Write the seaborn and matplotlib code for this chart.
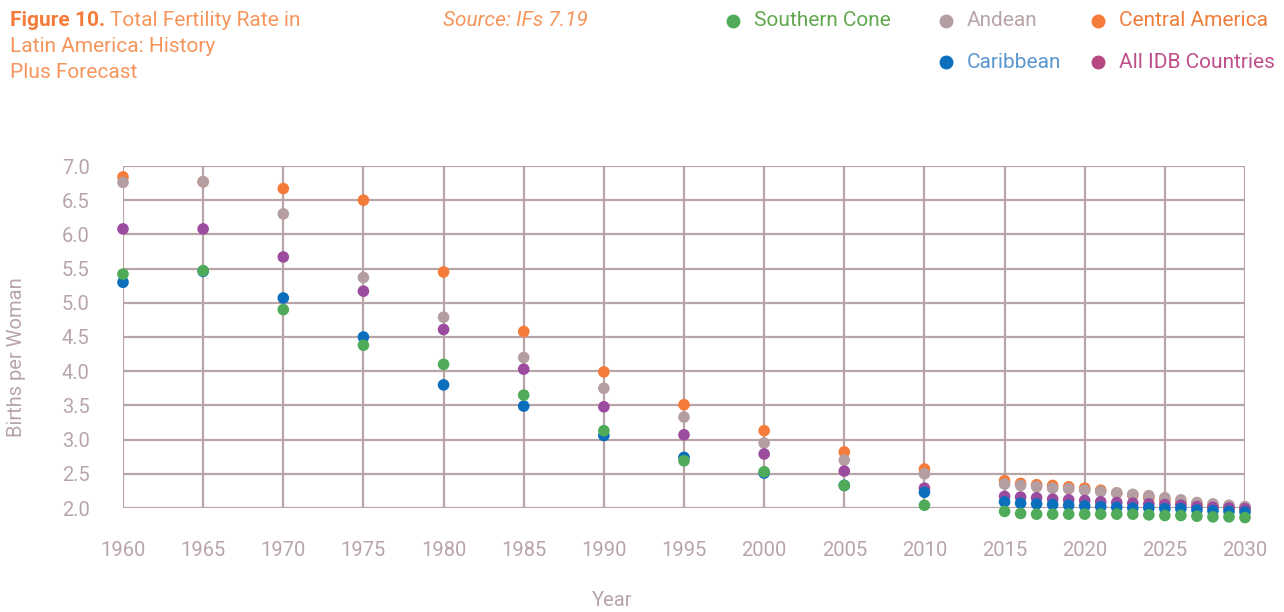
import matplotlib
matplotlib.use("Agg")
import matplotlib.pyplot as plt
import seaborn as sns
import pandas as pd
import numpy as np

years = [1960, 1965, 1970, 1975, 1980, 1985, 1990, 1995, 2000, 2005, 2010,
         2015, 2016, 2017, 2018, 2019, 2020, 2021, 2022, 2023, 2024, 2025,
         2026, 2027, 2028, 2029, 2030]

central_america = [6.84, 6.77, 6.67, 6.50, 5.45, 4.58, 3.99, 3.51, 3.13, 2.82, 2.57,
                   2.40, 2.36, 2.34, 2.33, 2.31, 2.29, 2.26, 2.22, 2.19, 2.15, 2.11,
                   2.08, 2.06, 2.03, 2.01, 1.99]
andean = [6.76, 6.77, 6.30, 5.37, 4.79, 4.20, 3.75, 3.33, 2.95, 2.70, 2.50,
          2.35, 2.33, 2.31, 2.29, 2.28, 2.26, 2.24, 2.22, 2.20, 2.18, 2.15,
          2.12, 2.08, 2.06, 2.04, 2.02]
all_idb = [6.08, 6.08, 5.67, 5.17, 4.61, 4.03, 3.48, 3.07, 2.79, 2.54, 2.29,
           2.17, 2.16, 2.15, 2.13, 2.12, 2.11, 2.09, 2.08, 2.07, 2.06, 2.05,
           2.04, 2.02, 2.01, 2.00, 1.99]
caribbean = [5.30, 5.46, 5.07, 4.50, 3.80, 3.49, 3.06, 2.74, 2.51, 2.33, 2.23,
             2.09, 2.07, 2.06, 2.05, 2.04, 2.03, 2.02, 2.01, 2.00, 2.00, 1.99,
             1.99, 1.97, 1.96, 1.95, 1.94]
southern_cone = [5.42, 5.47, 4.90, 4.38, 4.10, 3.65, 3.13, 2.69, 2.53, 2.33, 2.04,
                 1.95, 1.92, 1.91, 1.91, 1.91, 1.91, 1.91, 1.91, 1.91, 1.90, 1.89,
                 1.89, 1.88, 1.87, 1.87, 1.86]

x_ticks = list(range(1960, 2031, 5))
y_ticks = [2.0, 2.5, 3.0, 3.5, 4.0, 4.5, 5.0, 5.5, 6.0, 6.5, 7.0]

series = {
    "Central America": central_america,
    "Andean": andean,
    "All IDB Countries": all_idb,
    "Caribbean": caribbean,
    "Southern Cone": southern_cone,
}
colors = {
    "Central America": "#f47b3a",
    "Andean": "#b49ea1",
    "All IDB Countries": "#9c4c9f",
    "Caribbean": "#0b6fbd",
    "Southern Cone": "#4fab5a",
}

df = pd.concat([pd.DataFrame({"Year": years, "TFR": v, "Region": k})
                for k, v in series.items()], ignore_index=True)

sns.set_theme(style="white")
plt.rcParams['font.family'] = ['Roboto', 'DejaVu Sans']

grid_c = "#b8a5a8"
fig = plt.figure(figsize=(12.84, 6.12), dpi=100)
ax = fig.add_axes([123/1284, 1 - 508/612, (1245 - 123)/1284, (508 - 166)/612])

sns.scatterplot(data=df, x="Year", y="TFR", hue="Region", palette=colors,
                s=70, linewidth=0, legend=False, ax=ax, clip_on=False, zorder=3)

ax.set_xlim(1960, 2030)
ax.set_ylim(2.0, 7.0)
ax.set_xticks(x_ticks)
ax.set_xticklabels([str(t) for t in x_ticks])
ax.set_yticks(y_ticks)
ax.set_yticklabels([f"{t:.1f}" for t in y_ticks])
ax.grid(True, color=grid_c, linewidth=1.6, zorder=1)
ax.set_axisbelow(True)
for sp in ax.spines.values():
    sp.set_visible(False)
ax.tick_params(axis="both", length=0, colors=grid_c, labelsize=14.5)
ax.tick_params(axis="x", pad=24)
ax.tick_params(axis="y", pad=24)
ax.set_xlabel("")
ax.set_ylabel("")

fig.text(612/1284, 1 - 600/612, "Year", color=grid_c, fontsize=14.5,
         ha="center", va="center")
fig.text(17/1284, 1 - 357/612, "Births per Woman", color=grid_c, fontsize=14.5,
         ha="center", va="center", rotation=90)

# Title
title_c = "#f6955c"
fig.text(10/1284, 1 - 20/612, "Figure 10.", color="#f47b3a", fontsize=15,
         fontweight="bold", ha="left", va="center")
fig.text(110/1284, 1 - 20/612, "Total Fertility Rate in", color=title_c,
         fontsize=15, ha="left", va="center")
fig.text(10/1284, 1 - 47/612, "Latin America: History", color=title_c,
         fontsize=15, ha="left", va="center")
fig.text(10/1284, 1 - 73/612, "Plus Forecast", color=title_c,
         fontsize=15, ha="left", va="center")
fig.text(443/1284, 1 - 20/612, "Source: IFs 7.19", color=title_c, fontsize=15,
         style="italic", ha="left", va="center")

# Legend
legend_items = [
    ("Southern Cone", 733, 21, "#4fab5a", "#62a84e"),
    ("Andean", 946, 21, "#b49ea1", "#b9a4a7"),
    ("Central America", 1098, 21, "#f47b3a", "#ef7d3b"),
    ("Caribbean", 946, 62, "#0b6fbd", "#5b97cf"),
    ("All IDB Countries", 1098, 62, "#b6477f", "#bf4f8b"),
]
for label, xm, ym, mc, tc in legend_items:
    fig.lines.append(plt.Line2D([xm/1284], [1 - ym/612], marker="o",
                                markersize=9, color=mc, linestyle="none",
                                transform=fig.transFigure))
    fig.text((xm + 21)/1284, 1 - ym/612, label, color=tc, fontsize=15,
             ha="left", va="center")

fig.savefig("out.png", dpi=100)
